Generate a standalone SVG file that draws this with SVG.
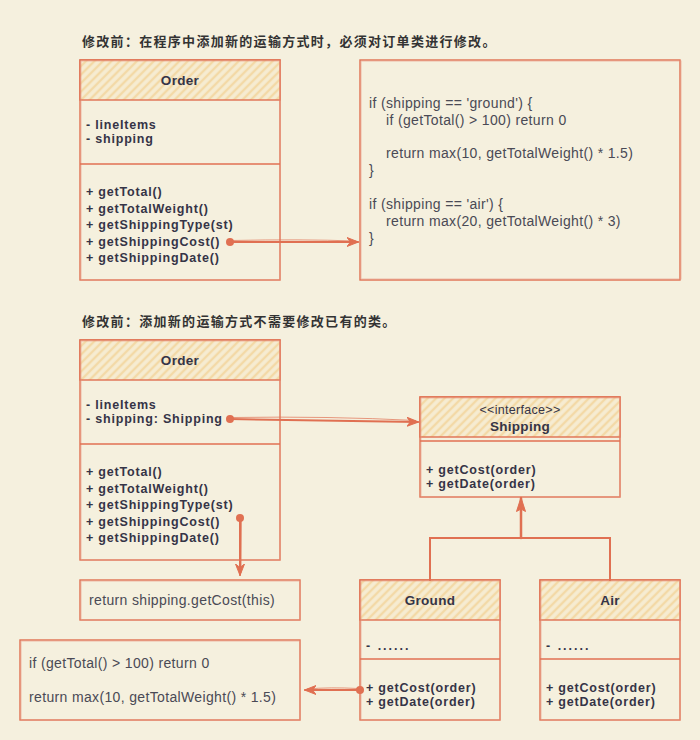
<svg xmlns="http://www.w3.org/2000/svg" width="700" height="740" viewBox="0 0 700 740">
<defs>
<pattern id="hatch" width="6" height="6" patternUnits="userSpaceOnUse" patternTransform="rotate(45)">
<rect width="6" height="6" fill="#f6ecd2"/>
<line x1="2" y1="0" x2="2" y2="6" stroke="#f3d9a6" stroke-width="2.4"/>
</pattern>
<marker id="arr" viewBox="0 0 12 10" refX="11" refY="5" markerWidth="12" markerHeight="10" markerUnits="userSpaceOnUse" orient="auto">
<path d="M0,0.5 L11.5,5 L0,9.5 L3.5,5 Z" fill="#e07052" stroke="#e07052" stroke-width="1" stroke-linejoin="round"/>
</marker>
<marker id="dot" viewBox="0 0 10 10" refX="5" refY="5" markerWidth="10" markerHeight="10" markerUnits="userSpaceOnUse" orient="auto">
<circle cx="5" cy="5" r="4" fill="#e07052"/>
</marker>
<marker id="tri" viewBox="0 0 15 10" refX="14" refY="5" markerWidth="15" markerHeight="10" markerUnits="userSpaceOnUse" orient="auto">
<path d="M14.5,5 L0.5,0.5 L3,5 L0.5,9.5 Z" fill="#e07052" stroke="#e07052" stroke-width="1" stroke-linejoin="round"/>
</marker>
</defs>
<style>
.box{fill:#f5f0de;stroke:#e07052;stroke-width:1.4}
.hd{fill:url(#hatch);stroke:#e07052;stroke-width:1.4}
.sk{fill:none;stroke:#e89a84;stroke-width:1;opacity:0.6}
.sep{stroke:#e07052;stroke-width:1.3;fill:none}
.t{font-family:"Liberation Sans","DejaVu Sans",sans-serif;font-size:12.5px;letter-spacing:0.8px;font-weight:bold;fill:#353447}
.c{font-family:"Liberation Sans","DejaVu Sans",sans-serif;font-size:14px;letter-spacing:0.35px;fill:#4a4a55}
.h{font-family:"Liberation Sans","DejaVu Sans",sans-serif;font-size:13.5px;letter-spacing:0.3px;font-weight:bold;fill:#353447;text-anchor:middle}
.ttl{font-family:"Liberation Sans","Noto Sans CJK SC",sans-serif;font-size:13px;letter-spacing:1.3px;font-weight:bold;fill:#333333}
.ln{fill:none;stroke:#e07052;stroke-width:2;stroke-linecap:round}
.ln2{fill:none;stroke:#e07052;stroke-width:1;opacity:0.7}
.dots{letter-spacing:2px}
</style>
<rect width="700" height="740" fill="#f5f0de"/>

<g id="titles">
<text class="ttl" x="82" y="46">修改前：在程序中添加新的运输方式时，必须对订单类进行修改。</text>
<text class="ttl" x="82" y="326">修改前：添加新的运输方式不需要修改已有的类。</text>
</g>

<g id="order1">
<rect class="box" x="80" y="60" width="200" height="220"/>
<rect class="hd" x="80" y="60" width="200" height="40"/>
<rect class="sk" x="81" y="61" width="199" height="219"/>
<line class="sep" x1="80" y1="164" x2="280" y2="164"/>
<text class="h" x="180" y="85">Order</text>
<text class="t" x="86" y="128.5">- lineItems</text>
<text class="t" x="86" y="143">- shipping</text>
<text class="t" x="86" y="196">+ getTotal()</text>
<text class="t" x="86" y="212.5">+ getTotalWeight()</text>
<text class="t" x="86" y="229">+ getShippingType(st)</text>
<text class="t" x="86" y="245.5">+ getShippingCost()</text>
<text class="t" x="86" y="262">+ getShippingDate()</text>
</g>

<g id="code1">
<rect class="box" x="360" y="60" width="320" height="220"/>
<rect class="sk" x="361" y="61" width="320" height="218"/>
<text class="c" x="369" y="108">if (shipping == 'ground') {</text>
<text class="c" x="386" y="125">if (getTotal() &gt; 100) return 0</text>
<text class="c" x="386" y="158">return max(10, getTotalWeight() * 1.5)</text>
<text class="c" x="369" y="175">}</text>
<text class="c" x="369" y="209">if (shipping == 'air') {</text>
<text class="c" x="386" y="226">return max(20, getTotalWeight() * 3)</text>
<text class="c" x="369" y="243">}</text>
</g>

<g id="order2">
<rect class="box" x="80" y="340" width="200" height="220"/>
<rect class="hd" x="80" y="340" width="200" height="40"/>
<rect class="sk" x="81" y="341" width="199" height="219"/>
<line class="sep" x1="80" y1="444" x2="280" y2="444"/>
<text class="h" x="180" y="365">Order</text>
<text class="t" x="86" y="408.5">- lineItems</text>
<text class="t" x="86" y="423">- shipping:  Shipping</text>
<text class="t" x="86" y="476">+ getTotal()</text>
<text class="t" x="86" y="492.5">+ getTotalWeight()</text>
<text class="t" x="86" y="509">+ getShippingType(st)</text>
<text class="t" x="86" y="525.5">+ getShippingCost()</text>
<text class="t" x="86" y="542">+ getShippingDate()</text>
</g>

<g id="shipping">
<rect class="box" x="420" y="397" width="200" height="100"/>
<rect class="hd" x="420" y="397" width="200" height="40"/>
<rect class="sk" x="421" y="398" width="199" height="99"/>
<line class="sep" x1="420" y1="441" x2="620" y2="441"/>
<text class="h" x="520" y="414" style="font-weight:normal;font-size:12.5px">&lt;&lt;interface&gt;&gt;</text>
<text class="h" x="520" y="431">Shipping</text>
<text class="t" x="426" y="473.5">+ getCost(order)</text>
<text class="t" x="426" y="488">+ getDate(order)</text>
</g>

<g id="ground">
<rect class="box" x="360" y="580" width="140" height="140"/>
<rect class="hd" x="360" y="580" width="140" height="40"/>
<rect class="sk" x="361" y="581" width="139" height="139"/>
<line class="sep" x1="360" y1="659" x2="500" y2="659"/>
<text class="h" x="430" y="605">Ground</text>
<text class="t dots" x="366" y="650">- ......</text>
<text class="t" x="366" y="691.5">+ getCost(order)</text>
<text class="t" x="366" y="706">+ getDate(order)</text>
</g>

<g id="air">
<rect class="box" x="540" y="580" width="140" height="140"/>
<rect class="hd" x="540" y="580" width="140" height="40"/>
<rect class="sk" x="541" y="581" width="139" height="139"/>
<line class="sep" x1="540" y1="659" x2="680" y2="659"/>
<text class="h" x="610" y="605">Air</text>
<text class="t dots" x="546" y="650">- ......</text>
<text class="t" x="546" y="691.5">+ getCost(order)</text>
<text class="t" x="546" y="706">+ getDate(order)</text>
</g>

<g id="returnbox">
<rect class="box" x="80" y="580" width="220" height="40"/>
<rect class="sk" x="81" y="581" width="219" height="39"/>
<text class="c" x="89" y="605">return shipping.getCost(this)</text>
</g>

<g id="code2">
<rect class="box" x="20" y="640" width="280" height="80"/>
<rect class="sk" x="21" y="641" width="279" height="79"/>
<text class="c" x="29" y="668">if (getTotal() &gt; 100) return 0</text>
<text class="c" x="29" y="702">return max(10, getTotalWeight() * 1.5)</text>
</g>

<g id="connectors">
<path class="ln" d="M230,242 L358,242" marker-start="url(#dot)" marker-end="url(#arr)"/>
<path class="ln2" d="M232,240.5 Q300,239 356,241"/>
<path class="ln" d="M230,419 L418,422" marker-start="url(#dot)" marker-end="url(#arr)"/>
<path class="ln2" d="M232,417.5 Q330,416 416,420.5"/>
<path class="ln" d="M240,518 L240,575" marker-start="url(#dot)" marker-end="url(#arr)"/>
<path class="ln2" d="M241.5,520 L241,573"/>
<path class="ln" d="M360,690 L305,690" marker-start="url(#dot)" marker-end="url(#arr)"/>
<path class="ln2" d="M358,688.5 Q330,687 307,689"/>
<path class="ln" d="M521,538 L521,498" style="stroke-width:2.5" marker-end="url(#tri)"/>
<path class="ln" d="M430,580 L430,538 L610,538 L610,580"/>
</g>
</svg>
